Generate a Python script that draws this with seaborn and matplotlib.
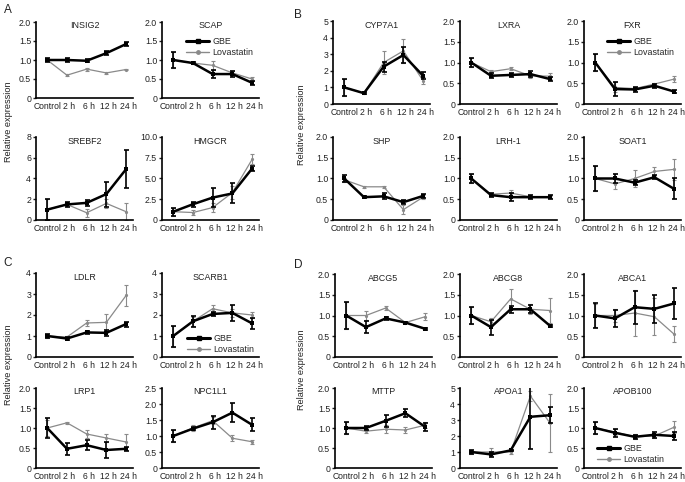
import matplotlib
matplotlib.use("Agg")
import matplotlib.pyplot as plt
import matplotlib.transforms as mtransforms
from matplotlib.lines import Line2D
import seaborn as sns

TIMEPOINTS = ["Control", "2 h", "6 h", "12 h", "24 h"]

# --- A: cholesterol synthesis ---
INSIG2_GBE = [1.0, 1.0, 0.98, 1.18, 1.42]
INSIG2_GBE_ERR = [0.05, 0.04, 0.04, 0.05, 0.05]
INSIG2_LOV = [1.0, 0.6, 0.76, 0.66, 0.75]
INSIG2_LOV_ERR = [0.03, 0.02, 0.04, 0.02, 0.02]

SCAP_GBE = [1.0, 0.92, 0.63, 0.63, 0.4]
SCAP_GBE_ERR = [0.2, 0.03, 0.1, 0.08, 0.05]
SCAP_LOV = [1.0, 0.92, 0.86, 0.66, 0.5]
SCAP_LOV_ERR = [0.2, 0.03, 0.12, 0.05, 0.04]

SREBF2_GBE = [1.0, 1.5, 1.65, 2.5, 4.9]
SREBF2_GBE_ERR = [1.0, 0.2, 0.3, 1.2, 1.8]
SREBF2_LOV = [1.0, 1.5, 0.7, 1.6, 0.8]
SREBF2_LOV_ERR = [1.0, 0.15, 0.4, 0.4, 0.8]

HMGCR_GBE = [1.0, 1.9, 2.7, 3.2, 6.2]
HMGCR_GBE_ERR = [0.5, 0.3, 1.1, 1.2, 0.3]
HMGCR_LOV = [1.0, 0.9, 1.5, 3.3, 7.3]
HMGCR_LOV_ERR = [0.5, 0.3, 0.5, 0.8, 0.6]

# --- B: bile acid / nuclear receptors ---
CYP7A1_GBE = [1.0, 0.65, 2.25, 2.95, 1.7]
CYP7A1_GBE_ERR = [0.5, 0.05, 0.3, 0.5, 0.2]
CYP7A1_LOV = [1.0, 0.65, 2.5, 3.2, 1.4]
CYP7A1_LOV_ERR = [0.5, 0.05, 0.7, 0.7, 0.2]

LXRA_GBE = [1.0, 0.68, 0.7, 0.72, 0.6]
LXRA_GBE_ERR = [0.12, 0.06, 0.04, 0.08, 0.05]
LXRA_LOV = [1.0, 0.78, 0.85, 0.68, 0.67]
LXRA_LOV_ERR = [0.1, 0.05, 0.03, 0.06, 0.07]

FXR_GBE = [1.0, 0.36, 0.35, 0.44, 0.3]
FXR_GBE_ERR = [0.2, 0.17, 0.07, 0.05, 0.03]
FXR_LOV = [1.0, 0.4, 0.37, 0.48, 0.6]
FXR_LOV_ERR = [0.2, 0.12, 0.05, 0.03, 0.07]

SHP_GBE = [1.0, 0.55, 0.57, 0.43, 0.58]
SHP_GBE_ERR = [0.08, 0.03, 0.07, 0.05, 0.04]
SHP_LOV = [0.97, 0.8, 0.8, 0.25, 0.55]
SHP_LOV_ERR = [0.05, 0.03, 0.03, 0.1, 0.05]

LRH1_GBE = [1.0, 0.6, 0.55, 0.55, 0.55]
LRH1_GBE_ERR = [0.12, 0.05, 0.1, 0.05, 0.05]
LRH1_LOV = [1.0, 0.62, 0.65, 0.56, 0.56]
LRH1_LOV_ERR = [0.1, 0.04, 0.08, 0.03, 0.03]

SOAT1_GBE = [1.0, 1.0, 0.9, 1.03, 0.75]
SOAT1_GBE_ERR = [0.3, 0.1, 0.06, 0.05, 0.25]
SOAT1_LOV = [1.0, 0.87, 1.0, 1.17, 1.22]
SOAT1_LOV_ERR = [0.3, 0.12, 0.2, 0.1, 0.25]

# --- C: uptake ---
LDLR_GBE = [1.0, 0.88, 1.17, 1.15, 1.57]
LDLR_GBE_ERR = [0.08, 0.05, 0.07, 0.15, 0.12]
LDLR_LOV = [1.0, 0.95, 1.62, 1.65, 2.93]
LDLR_LOV_ERR = [0.08, 0.05, 0.12, 0.4, 0.5]

SCARB1_GBE = [1.0, 1.7, 2.05, 2.1, 1.6]
SCARB1_GBE_ERR = [0.5, 0.25, 0.1, 0.4, 0.25]
SCARB1_LOV = [1.0, 1.7, 2.3, 2.1, 2.0]
SCARB1_LOV_ERR = [0.5, 0.2, 0.2, 0.2, 0.15]

LRP1_GBE = [1.0, 0.48, 0.57, 0.45, 0.48]
LRP1_GBE_ERR = [0.25, 0.15, 0.12, 0.2, 0.05]
LRP1_LOV = [1.0, 1.13, 0.85, 0.75, 0.65]
LRP1_LOV_ERR = [0.2, 0.03, 0.1, 0.1, 0.2]

NPC1L1_GBE = [1.0, 1.23, 1.43, 1.73, 1.35]
NPC1L1_GBE_ERR = [0.2, 0.05, 0.2, 0.3, 0.2]
NPC1L1_LOV = [1.0, 1.25, 1.48, 0.93, 0.82]
NPC1L1_LOV_ERR = [0.2, 0.1, 0.1, 0.1, 0.07]

# --- D: efflux / lipoproteins ---
ABCG5_GBE = [1.0, 0.72, 0.93, 0.83, 0.68]
ABCG5_GBE_ERR = [0.33, 0.15, 0.03, 0.02, 0.02]
ABCG5_LOV = [1.0, 1.0, 1.18, 0.83, 0.97]
ABCG5_LOV_ERR = [0.33, 0.12, 0.04, 0.02, 0.08]

ABCG8_GBE = [1.0, 0.72, 1.15, 1.15, 0.75]
ABCG8_GBE_ERR = [0.2, 0.18, 0.08, 0.1, 0.03]
ABCG8_LOV = [1.0, 0.85, 1.4, 1.15, 1.12]
ABCG8_LOV_ERR = [0.2, 0.1, 0.25, 0.12, 0.3]

ABCA1_GBE = [1.0, 0.93, 1.2, 1.16, 1.29]
ABCA1_GBE_ERR = [0.3, 0.2, 0.4, 0.33, 0.38]
ABCA1_LOV = [1.0, 1.0, 1.06, 0.97, 0.55]
ABCA1_LOV_ERR = [0.28, 0.15, 0.55, 0.45, 0.2]

MTTP_GBE = [1.0, 1.0, 1.18, 1.37, 1.03]
MTTP_GBE_ERR = [0.15, 0.04, 0.15, 0.1, 0.1]
MTTP_LOV = [1.0, 0.92, 0.97, 0.95, 1.07]
MTTP_LOV_ERR = [0.15, 0.05, 0.1, 0.08, 0.08]

APOA1_GBE = [1.0, 0.85, 1.1, 3.2, 3.3]
APOA1_GBE_ERR = [0.1, 0.15, 0.05, 2.0, 0.5]
APOA1_LOV = [1.0, 1.0, 1.0, 4.5, 2.8]
APOA1_LOV_ERR = [0.1, 0.25, 0.1, 0.3, 1.8]

APOB100_GBE = [1.0, 0.88, 0.78, 0.83, 0.8]
APOB100_GBE_ERR = [0.15, 0.1, 0.05, 0.07, 0.1]
APOB100_LOV = [1.0, 0.9, 0.78, 0.8, 1.02]
APOB100_LOV_ERR = [0.15, 0.08, 0.06, 0.05, 0.15]

# y tick sets
Y2 = ([0, 0.5, 1, 1.5, 2], ["0", "0.5", "1.0", "1.5", "2.0"])
Y25 = ([0, 0.5, 1, 1.5, 2, 2.5], ["0", "0.5", "1.0", "1.5", "2.0", "2.5"])
Y4 = ([0, 1, 2, 3, 4], ["0", "1", "2", "3", "4"])
Y5 = ([0, 1, 2, 3, 4, 5], ["0", "1", "2", "3", "4", "5"])
Y8 = ([0, 2, 4, 6, 8], ["0", "2", "4", "6", "8"])
Y10 = ([0, 2.5, 5, 7.5, 10], ["0", "2.5", "5.0", "7.5", "10.0"])

W, H = 685, 482
GRAY = "#8a8a8a"
TXT = "#222222"

sns.set_theme(style="ticks")
plt.rcParams["font.family"] = ["Liberation Sans", "DejaVu Sans"]

fig = plt.figure(figsize=(W / 100, H / 100), dpi=100)
fig.patch.set_facecolor("white")


def draw_panel(x_px, top_px, bot_px, gene, gbe, gbe_err, lov, lov_err, yt, legend_at=None):
    ax = fig.add_axes([x_px / W, 1 - bot_px / H, 97 / W, (bot_px - top_px) / H])
    pos = list(range(len(TIMEPOINTS)))

    sns.lineplot(x=pos, y=lov, color=GRAY, linewidth=0.9, marker="o",
                 markersize=2.3, markeredgewidth=0, ax=ax)
    ax.errorbar(pos, lov, yerr=lov_err, fmt="none", ecolor=GRAY,
                elinewidth=0.8, capsize=1.5, capthick=0.8)
    sns.lineplot(x=pos, y=gbe, color="black", linewidth=1.8, marker="s",
                 markersize=3.2, markeredgewidth=0, ax=ax)
    ax.errorbar(pos, gbe, yerr=gbe_err, fmt="none", ecolor="black",
                elinewidth=1.2, capsize=1.8, capthick=1.2)

    ax.set_xlim(-0.57, 4.35)
    ax.set_ylim(0, yt[0][-1])
    ax.set_xticks(pos)
    ax.set_xticklabels(TIMEPOINTS)
    ax.set_yticks(yt[0])
    ax.set_yticklabels(yt[1])
    ax.tick_params(axis="x", length=0, pad=3, labelsize=6.2, colors=TXT)
    ax.tick_params(axis="y", length=2, width=1, pad=1.5, labelsize=6.3, colors=TXT)
    # nudge the hour labels a little right so they clear "Control"
    shift = mtransforms.ScaledTranslation(2.5 / 100, 0, fig.dpi_scale_trans)
    for lab in ax.get_xticklabels()[1:]:
        lab.set_transform(lab.get_transform() + shift)
    sns.despine(ax=ax)
    for side in ["left", "bottom"]:
        ax.spines[side].set_linewidth(1.2)
        ax.spines[side].set_color("black")
    ax.set_facecolor("none")
    ax.text(0.5, 0.95, gene, transform=ax.transAxes, ha="center", va="center",
            fontsize=6.4, color=TXT)

    if legend_at is not None:
        handles = [
            Line2D([], [], color="black", linewidth=2.2, marker="s", markersize=3.2),
            Line2D([], [], color=GRAY, linewidth=1.0, marker="o", markersize=2.5),
        ]
        ax.legend(handles, ["GBE", "Lovastatin"], loc="upper left",
                  bbox_to_anchor=(legend_at[0] / W, 1 - legend_at[1] / H),
                  bbox_transform=fig.transFigure, frameon=False, fontsize=6.4,
                  handlelength=2.6, handletextpad=0.4, labelspacing=0.25,
                  borderpad=0, borderaxespad=0)
    return ax


# section A
draw_panel(36, 22, 98, "INSIG2", INSIG2_GBE, INSIG2_GBE_ERR, INSIG2_LOV, INSIG2_LOV_ERR, Y2)
draw_panel(162, 22, 98, "SCAP", SCAP_GBE, SCAP_GBE_ERR, SCAP_LOV, SCAP_LOV_ERR, Y2,
           legend_at=(186, 37))
draw_panel(36, 137, 220, "SREBF2", SREBF2_GBE, SREBF2_GBE_ERR, SREBF2_LOV, SREBF2_LOV_ERR, Y8)
draw_panel(162, 137, 220, "HMGCR", HMGCR_GBE, HMGCR_GBE_ERR, HMGCR_LOV, HMGCR_LOV_ERR, Y10)

# section B
draw_panel(333, 21, 104, "CYP7A1", CYP7A1_GBE, CYP7A1_GBE_ERR, CYP7A1_LOV, CYP7A1_LOV_ERR, Y5)
draw_panel(460, 21, 104, "LXRA", LXRA_GBE, LXRA_GBE_ERR, LXRA_LOV, LXRA_LOV_ERR, Y2)
draw_panel(584, 21, 104, "FXR", FXR_GBE, FXR_GBE_ERR, FXR_LOV, FXR_LOV_ERR, Y2,
           legend_at=(607, 37))
draw_panel(333, 137, 220, "SHP", SHP_GBE, SHP_GBE_ERR, SHP_LOV, SHP_LOV_ERR, Y2)
draw_panel(460, 137, 220, "LRH-1", LRH1_GBE, LRH1_GBE_ERR, LRH1_LOV, LRH1_LOV_ERR, Y2)
draw_panel(584, 137, 220, "SOAT1", SOAT1_GBE, SOAT1_GBE_ERR, SOAT1_LOV, SOAT1_LOV_ERR, Y2)

# section C
draw_panel(36, 273, 357, "LDLR", LDLR_GBE, LDLR_GBE_ERR, LDLR_LOV, LDLR_LOV_ERR, Y4)
draw_panel(162, 273, 357, "SCARB1", SCARB1_GBE, SCARB1_GBE_ERR, SCARB1_LOV, SCARB1_LOV_ERR, Y4,
           legend_at=(187, 334))
draw_panel(36, 388, 468, "LRP1", LRP1_GBE, LRP1_GBE_ERR, LRP1_LOV, LRP1_LOV_ERR, Y2)
draw_panel(162, 388, 468, "NPC1L1", NPC1L1_GBE, NPC1L1_GBE_ERR, NPC1L1_LOV, NPC1L1_LOV_ERR, Y25)

# section D
draw_panel(335, 274, 357, "ABCG5", ABCG5_GBE, ABCG5_GBE_ERR, ABCG5_LOV, ABCG5_LOV_ERR, Y2)
draw_panel(460, 274, 357, "ABCG8", ABCG8_GBE, ABCG8_GBE_ERR, ABCG8_LOV, ABCG8_LOV_ERR, Y2)
draw_panel(584, 274, 357, "ABCA1", ABCA1_GBE, ABCA1_GBE_ERR, ABCA1_LOV, ABCA1_LOV_ERR, Y2)
draw_panel(335, 388, 468, "MTTP", MTTP_GBE, MTTP_GBE_ERR, MTTP_LOV, MTTP_LOV_ERR, Y2)
draw_panel(460, 388, 468, "APOA1", APOA1_GBE, APOA1_GBE_ERR, APOA1_LOV, APOA1_LOV_ERR, Y5)
draw_panel(584, 388, 468, "APOB100", APOB100_GBE, APOB100_GBE_ERR, APOB100_LOV, APOB100_LOV_ERR, Y2,
           legend_at=(597, 444))

# panel letters and shared y labels
for letter, x, y in [("A", 8, 10), ("B", 298, 15), ("C", 8, 263), ("D", 298, 265)]:
    fig.text(x / W, 1 - y / H, letter, fontsize=8.5, color=TXT, ha="center", va="center")

for x, y in [(9, 122), (301, 125), (9, 365), (301, 370)]:
    fig.text(x / W, 1 - y / H, "Relative expression", rotation=90, fontsize=6.6,
             color=TXT, ha="center", va="center")

fig.savefig("out.png", dpi=100, facecolor="white")
